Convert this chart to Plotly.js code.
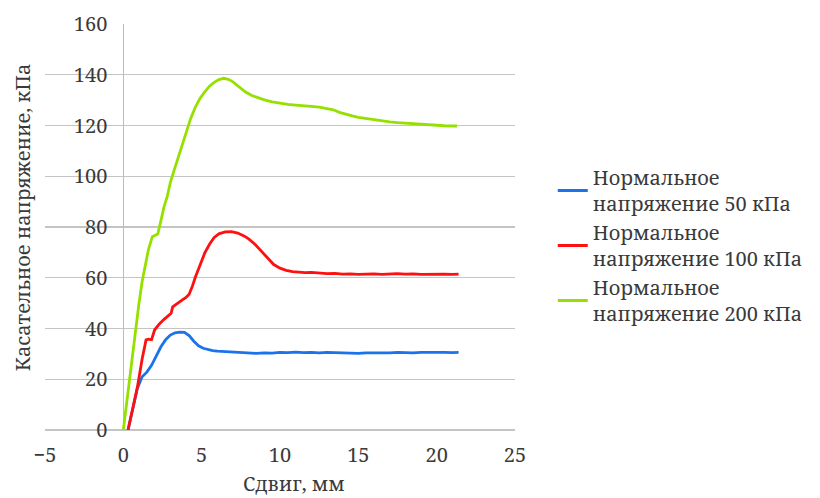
<!DOCTYPE html>
<html>
<head>
<meta charset="utf-8">
<script src="https://cdn.plot.ly/plotly-3.0.1.min.js"></script>
<style>html,body{margin:0;padding:0;background:#fff;}</style>
</head>
<body>
<div id="chart" style="width:820px;height:498px;"></div>
<script>
// ---- data ----
const seriesNames = [
  "Нормальное<br>напряжение 50 кПа",
  "Нормальное<br>напряжение 100 кПа",
  "Нормальное<br>напряжение 200 кПа"
];
const x50 = [0.3,0.6,0.9,1.2,1.5,1.8,2.1,2.4,2.7,3.0,3.3,3.6,3.9,4.2,4.5,4.8,5.1,5.4,5.7,6.0,6.5,7.0,7.5,8.0,8.5,9.0,9.5,10,10.5,11,11.5,12,12.5,13,13.5,14,14.5,15,15.5,16,16.5,17,17.5,18,18.5,19,19.5,20,20.5,21,21.4];
const y50 = [0,8.3,16.5,21,22.8,25.5,29.5,32.8,35.6,37.4,38.3,38.6,38.5,37.2,35.0,33.2,32.2,31.6,31.3,31.1,30.9,30.6,30.4,30.3,30.2,30.4,30.3,30.6,30.5,30.7,30.5,30.6,30.4,30.6,30.5,30.3,30.4,30.2,30.4,30.3,30.5,30.4,30.6,30.5,30.4,30.6,30.7,30.8,30.6,30.5,30.6];
const x100 = [0.3,0.6,0.9,1.2,1.45,1.6,1.8,2.0,2.3,2.6,2.9,3.05,3.15,3.4,3.7,4.0,4.2,4.4,4.6,4.9,5.2,5.5,5.8,6.1,6.5,6.9,7.3,7.7,8.0,8.4,8.8,9.2,9.6,10.0,10.4,10.8,11.2,11.6,12,12.5,13,13.5,14,14.5,15,15.5,16,16.5,17,17.5,18,18.5,19,19.5,20,20.5,21,21.4];
const y100 = [0,8,17,28,35.5,35.8,35.6,39.5,41.8,43.6,45.0,46,48.5,49.8,51,52.2,53.5,56.5,60.3,65,69.8,73.2,75.9,77.3,78.1,78.2,77.6,76.5,75.3,73.2,70.5,67.5,65.2,63.8,62.9,62.4,62.2,62.0,62.1,61.8,61.6,61.7,61.4,61.5,61.3,61.4,61.5,61.3,61.4,61.6,61.4,61.5,61.3,61.4,61.5,61.4,61.3,61.4];
const x200 = [0.0,0.2,0.4,0.6,0.8,1.0,1.2,1.4,1.6,1.85,2.0,2.2,2.4,2.6,2.8,3.0,3.2,3.4,3.7,4.0,4.3,4.6,4.9,5.2,5.5,5.8,6.1,6.4,6.7,7.0,7.4,7.8,8.2,8.6,9.0,9.5,10.0,10.5,11.0,11.5,12.0,12.5,13.0,13.4,13.8,14.2,14.6,15.0,15.5,16.0,16.5,17.0,17.5,18.0,18.5,19.0,19.5,20.0,20.5,21.0,21.3];
const y200 = [0,10,20.5,31,40.7,50,58.5,65.5,71,76.2,76.5,77.2,82.5,88,92,97.5,101.5,105.5,111,117,122.8,127.3,130.7,133.3,135.5,137,138.1,138.6,138.2,137.2,135.3,133.2,131.8,130.8,130.1,129.3,128.7,128.3,128.0,127.6,127.5,127.2,126.8,126.2,125.2,124.4,123.8,123.2,122.7,122.2,121.8,121.4,121.1,120.9,120.6,120.3,120.2,120.0,119.9,119.8,119.8];
const xTickVals = [-5,0,5,10,15,20,25];
const yTickVals = [0,20,40,60,80,100,120,140,160];
const xTitle = "Сдвиг, мм";
const yTitle = "Касательное напряжение, кПа";

// ---- chart ----
const FONT = "Noto Serif";
const FS = 20;
const TXT = "#3a3a3a";
const colors = ["#1a73ea", "#ff1010", "#96e000"];
const xs = [x50, x100, x200], ys = [y50, y100, y200];
const traces = xs.map((x, i) => ({
  x: x, y: ys[i], type: "scatter", mode: "lines", name: seriesNames[i],
  line: {color: colors[i], width: 2.8, shape: "linear"}
}));

const L = 45, R = 518, T = 24, B = 430;
const W = R - L;
const x0frac = (0 - (-5)) / 30;

const layout = {
  width: 820, height: 498,
  margin: {l: L, r: 820 - R, t: T, b: 498 - B},
  paper_bgcolor: "#ffffff", plot_bgcolor: "#ffffff",
  font: {family: FONT, size: FS, color: TXT},
  showlegend: true,
  xaxis: {
    range: [-5, 25], tickvals: xTickVals, showgrid: false,
    zeroline: true, zerolinecolor: "#bdbdbd", zerolinewidth: 1.3,
    showline: false, ticks: "", ticklabelstandoff: 11,
    tickfont: {family: FONT, size: FS, color: TXT}
  },
  yaxis: {
    range: [0, 160], tickvals: yTickVals, showgrid: true,
    gridcolor: "#c4c4c4", gridwidth: 1.3,
    zeroline: true, zerolinecolor: "#c4c4c4", zerolinewidth: 1.3,
    showline: false, ticks: "",
    anchor: "free", position: x0frac, ticklabelstandoff: 16,
    tickfont: {family: FONT, size: FS, color: TXT}
  },
  legend: {
    x: (556 - L) / W, xanchor: "left",
    y: (B - 158) / (B - T), yanchor: "top",
    font: {family: FONT, size: FS, color: TXT},
    bgcolor: "rgba(0,0,0,0)", borderwidth: 0, tracegroupgap: 0
  },
  annotations: [
    {text: xTitle, xref: "paper", yref: "paper", x: (296 - L) / W, y: (B - 483) / (B - T),
     xanchor: "center", yanchor: "middle", showarrow: false,
     font: {family: FONT, size: FS, color: TXT}},
    {text: yTitle, xref: "paper", yref: "paper", x: (22 - L) / W, y: (B - 218) / (B - T),
     xanchor: "center", yanchor: "middle", showarrow: false, textangle: -90,
     font: {family: FONT, size: FS, color: TXT}}
  ]
};

Plotly.newPlot("chart", traces, layout, {displayModeBar: false, staticPlot: true});
</script>
</body>
</html>
